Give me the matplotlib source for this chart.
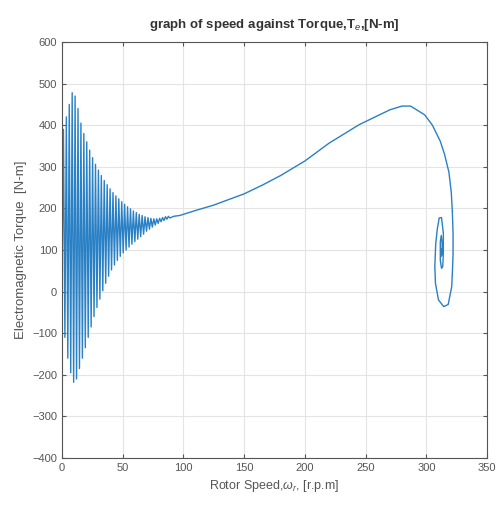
import matplotlib
matplotlib.use("Agg")
import matplotlib.pyplot as plt
import numpy as np

plt.rcParams['font.family'] = ['Liberation Sans', 'DejaVu Sans']
plt.rcParams['mathtext.fontset'] = 'custom'
plt.rcParams['mathtext.rm'] = 'Liberation Sans'
plt.rcParams['mathtext.it'] = 'Liberation Sans:italic'

# start-up oscillations, turning points
# upper turning points: speed [r.p.m], torque [N-m]
hi_speed = [1.2, 3.6, 6, 8.4, 10.8, 13.2, 15.6, 18, 20.4, 22.8, 25.2, 27.6, 30,
            32.4, 34.8, 37.2, 39.6, 42, 44.4, 46.8, 49.2, 51.6, 54, 56.4, 58.8,
            61.2, 63.6, 66, 68.4, 70.8, 73.2, 75.6, 78, 80.4, 82.8, 85.2, 87.6]
hi_torque = [390, 420, 450, 478, 470, 440, 405, 380, 360, 340, 322, 306, 292,
             279, 267, 257, 247, 238, 230, 223, 216, 210, 204, 199, 194, 190,
             186, 183, 180, 178, 176, 175, 175, 176, 178, 180, 181]
# lower turning points
lo_speed = [0, 2.4, 4.8, 7.2, 9.6, 12, 14.4, 16.8, 19.2, 21.6, 24, 26.4, 28.8,
            31.2, 33.6, 36, 38.4, 40.8, 43.2, 45.6, 48, 50.4, 52.8, 55.2, 57.6,
            60, 62.4, 64.8, 67.2, 69.6, 72, 74.4, 76.8, 79.2, 81.6, 84, 86.4, 88.8]
lo_torque = [0, -110, -160, -195, -218, -210, -185, -160, -135, -110, -85, -60,
             -38, -18, 2, 20, 37, 52, 64, 75, 85, 93, 100, 107, 114, 120, 126,
             132, 138, 145, 150, 155, 160, 164, 168, 171, 174, 177]

# run-up to steady state and the spiral around the operating point
run_speed = [92, 97, 110, 125, 150, 165, 180, 200, 220, 244.5, 258.6, 270, 280,
             287, 298.6, 305, 311.4, 315, 318.6, 320.5, 321.4, 322, 322, 321.5,
             320.9, 318, 314.3, 310, 307.5, 307, 307.7, 309, 310.6, 312.5, 314,
             314, 313.5, 312.5, 311.5, 311.5, 312.3, 313, 313, 312.3, 312, 312.3]
run_torque = [181, 183, 195, 208, 235, 256, 279, 314, 357, 401, 421, 437, 446,
              446, 425, 400, 362, 330, 287, 240, 193, 140, 90, 50, 12, -31,
              -36, -20, 20, 60, 114, 150, 177, 178, 140, 90, 60, 56, 75, 120,
              135, 115, 90, 85, 100, 102]

speed = []
torque = []
for i in range(len(lo_speed)):
    speed.append(lo_speed[i])
    torque.append(lo_torque[i])
    if i < len(hi_speed):
        speed.append(hi_speed[i])
        torque.append(hi_torque[i])
speed = speed + run_speed
torque = torque + run_torque

fig = plt.figure(figsize=(4.97, 5.16), dpi=100)
ax = fig.add_axes([0.1247, 0.1124, 0.8553, 0.8062])

ax.plot(speed, torque, color='#2a80c4', lw=1.0)

ax.set_xlim(0, 350)
ax.set_ylim(-400, 600)
ax.set_xticks(np.arange(0, 351, 50))
ax.set_yticks(np.arange(-400, 601, 100))
ax.grid(True, color='#e4e4e4', lw=0.8)
ax.set_axisbelow(True)
ax.tick_params(direction='in', length=3, labelsize=8, colors='#555555',
               labelcolor='#555555', top=True, right=True)
for s in ax.spines.values():
    s.set_color('#555555')
    s.set_linewidth(0.8)

ax.set_title('graph of speed against Torque,T$_e$,[N-m]', fontsize=9.5,
             fontweight='bold', color='#333333', pad=10)
ax.set_xlabel('Rotor Speed,$\\omega_r$, [r.p.m]', fontsize=9, color='#555555')
ax.set_ylabel('Electromagnetic Torque  [N-m]', fontsize=9.5, color='#555555')

fig.savefig('out.png', dpi=100)
